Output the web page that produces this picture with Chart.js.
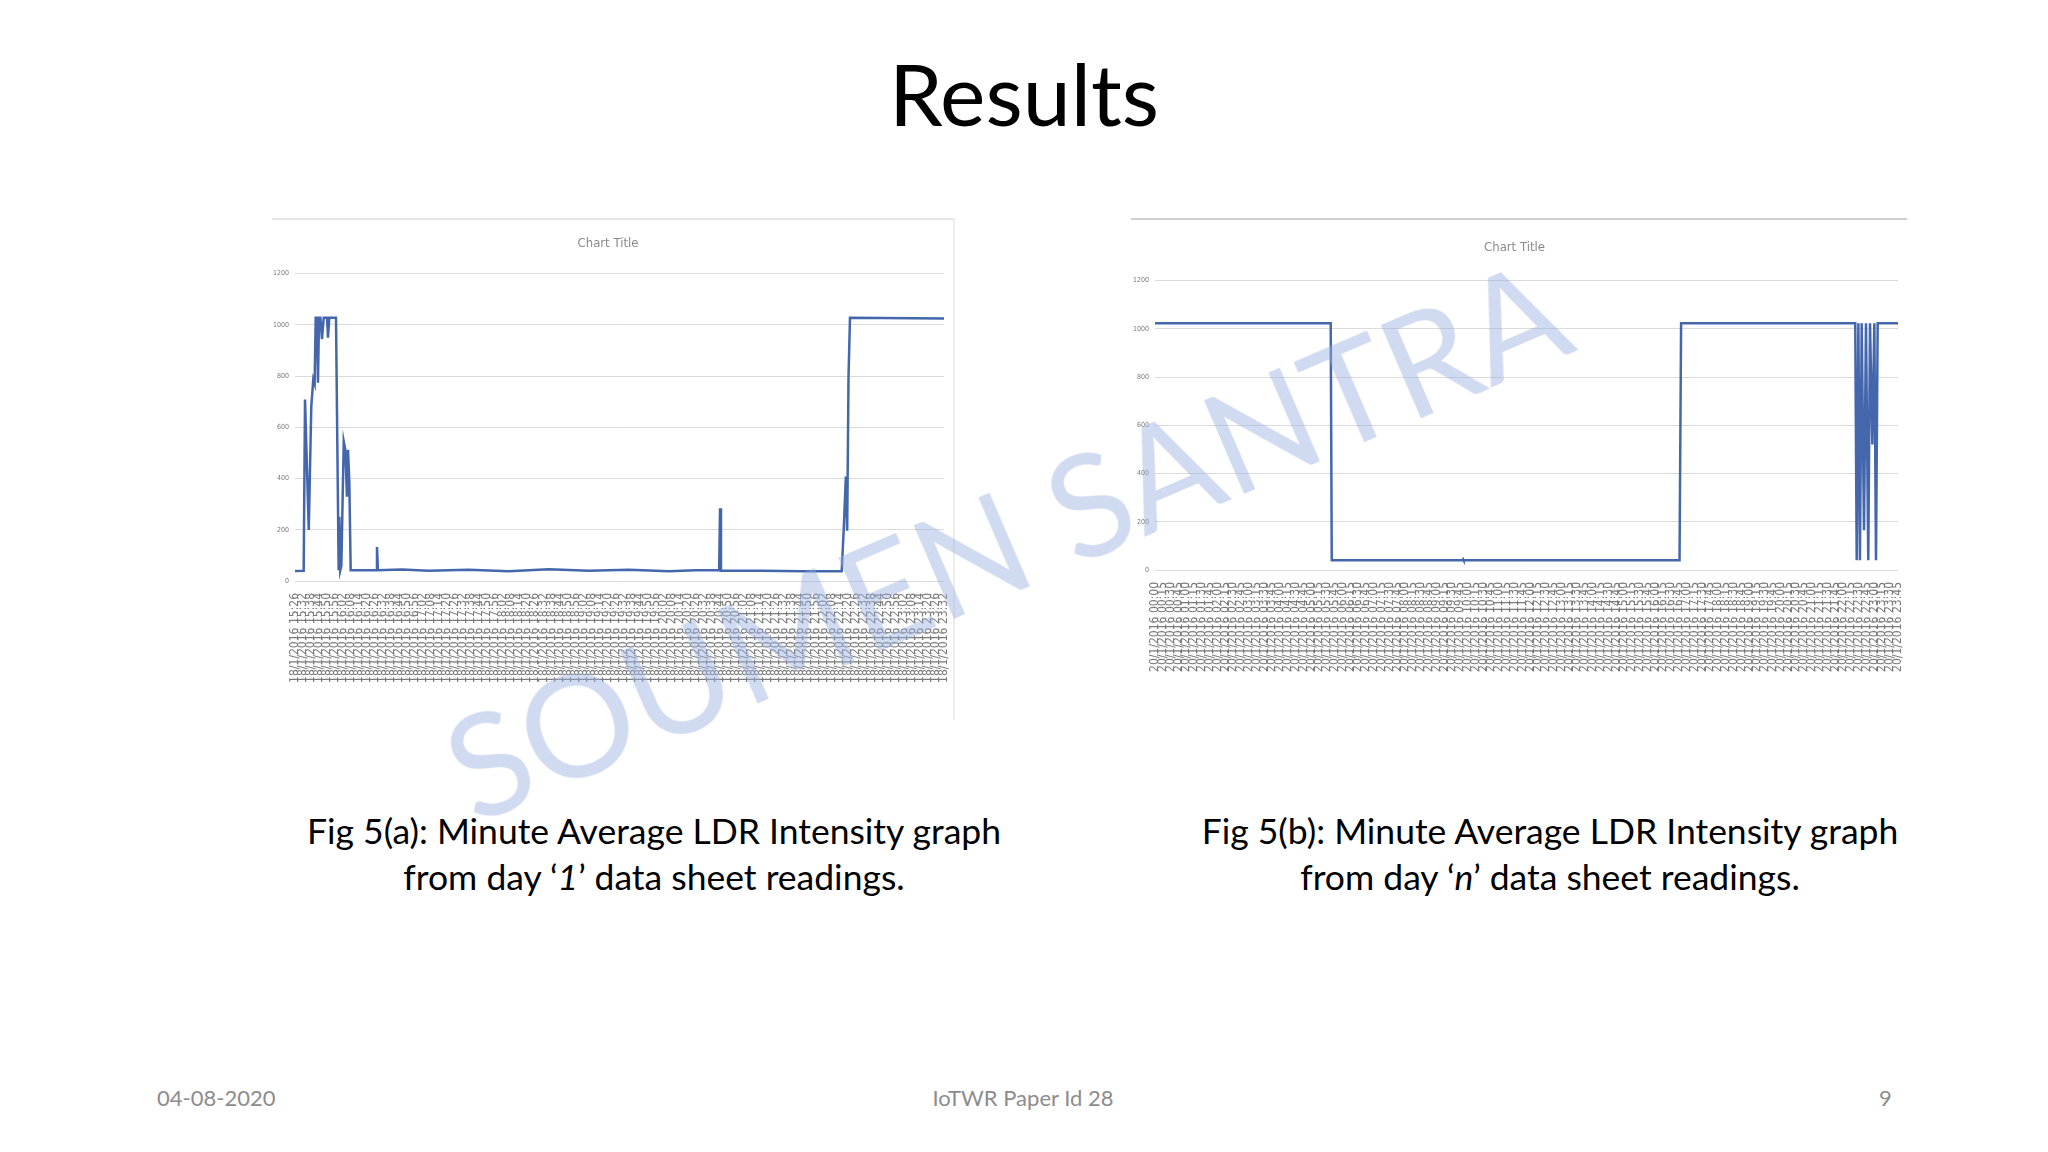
<!DOCTYPE html>
<html lang="en">

<head>
    <meta charset="UTF-8">
    <title>Results</title>
    <script src="https://cdn.jsdelivr.net/npm/chart.js"></script>

    <style>
        body {
            margin: 0;
            width: 2048px;
            height: 1152px;
            background: white;
            position: relative;
            overflow: hidden;
            font-family: Lato, "Open Sans", sans-serif;
        }

        .abs {
            position: absolute;
        }

        #title {
            left: 0;
            width: 2048px;
            top: 50px;
            text-align: center;
            font-size: 86px;
            line-height: 1;
            color: black;
        }

        .chartBox {
            background: white;
            top: 218px;
            height: 500px;
        }

        #boxA {
            left: 272px;
            width: 681px;
            border-top: 2px solid #e6e6e6;
            border-right: 2px solid #ececec;
        }

        #boxB {
            left: 1131px;
            width: 776px;
            border-top: 2px solid #cfcfcf;
        }

        .caption {
            top: 808px;
            width: 840px;
            text-align: center;
            font-size: 35.5px;
            line-height: 46px;
            color: black;
        }

        .footer {
            top: 1087px;
            font-size: 22px;
            line-height: 1;
            color: #8c8c8c;
        }

        #watermark {
            left: 1005px;
            top: 537px;
            transform: translate(-50%, -50%) rotate(-23.3deg);
            font-size: 142px;
            white-space: nowrap;
            color: rgba(150, 172, 222, 0.45);
            pointer-events: none;
            z-index: 5;
        }
    </style>
</head>

<body>
    <div id="title" class="abs">Results</div>

    <div id="boxA" class="abs chartBox"><canvas id="chartA"></canvas></div>
    <div id="boxB" class="abs chartBox"><canvas id="chartB"></canvas></div>

    <div class="abs caption" style="left:234px">Fig 5(a): Minute Average LDR Intensity graph<br>from day ‘<i>1</i>’ data sheet readings.</div>
    <div class="abs caption" style="left:1130px">Fig 5(b): Minute Average LDR Intensity graph<br>from day ‘<i>n</i>’ data sheet readings.</div>

    <div class="abs footer" style="left:157px">04-08-2020</div>
    <div class="abs footer" style="left:0;width:2046px;text-align:center">IoTWR Paper Id 28</div>
    <div class="abs footer" style="left:1879px">9</div>

    <div id="watermark" class="abs">SOUMEN SANTRA</div>

    <script>
        // day 1 : minutes after the first reading, and LDR value
        const dayOneMinutes = [0, 6.5, 7.5, 10.3, 12.2, 13.7, 14.7, 15.5, 16.5, 17.2,
            18, 19, 20.2, 21.5, 24, 24.7, 25.7, 30.7, 32.7, 33.2,
            33.9, 34.7, 36.5, 37.7, 38.9, 39.7, 40.7, 41.7, 60.9, 61.4,
            62.1, 80, 100, 130, 160, 190, 220, 250, 280, 300,
            317.6, 318.3, 319, 350, 380, 409.4, 411, 412.5, 413.5, 414.5,
            415.6, 486]
        const dayOneValues = [39, 40, 708, 199, 682, 787, 770, 1028, 1028, 774,
            1028, 1028, 944, 1028, 1028, 950, 1028, 1028, 42, 251,
            42, 60, 545, 512, 329, 512, 382, 42, 42, 133,
            42, 45, 40, 44, 38, 46, 40, 44, 38, 42,
            42, 284, 40, 40, 38, 38, 212, 408, 196, 800,
            1028, 1025]

        // day n
        const dayNMinutes = [0, 337, 339, 590, 591, 592, 1006, 1009, 1343, 1345.8,
            1349, 1352, 1355.4, 1359.8, 1363.6, 1368, 1371.3, 1375.8, 1379.6, 1382.8,
            1386, 1425]
        const dayNValues = [1023, 1023, 40, 40, 44, 40, 40, 1023, 1023, 40,
            1023, 40, 1023, 165, 1023, 40, 1023, 520, 1023, 40,
            1023, 1023]

        // x tick labels (time stamps of the sheet rows)
        const dayOneDate = '18/1/2016', dayOneStart = 15 * 60 + 26, dayOneStep = 6, dayOneCount = 82
        const dayNDate = '20/1/2016', dayNStart = 0, dayNStep = 15, dayNCount = 96

        const yTicks = [0, 200, 400, 600, 800, 1000, 1200]

        function stamps(date, start, step, count) {
            const out = []
            for (let i = 0; i < count; i++) {
                const t = start + i * step
                const h = Math.floor(t / 60), m = t % 60
                out.push(date + ' ' + String(h).padStart(2, '0') + ':' + String(m).padStart(2, '0'))
            }
            return out
        }
        const dayOneTicks = stamps(dayOneDate, dayOneStart, dayOneStep, dayOneCount)
        const dayNTicks = stamps(dayNDate, dayNStart, dayNStep, dayNCount)

        const narrow = "'DejaVu Sans Condensed', 'Liberation Sans Narrow', 'DejaVu Sans'"

        function makeChart(id, minutes, values, tickLabels, step, opts) {
            return new Chart(id, {
                type: 'line',
                data: {
                    datasets: [{
                        data: minutes.map((m, i) => ({ x: m, y: values[i] })),
                        borderColor: '#4366ad',
                        borderWidth: 2.5,
                        pointRadius: 0,
                        tension: 0,
                        fill: false
                    }]
                },
                options: {
                    animation: false,
                    responsive: true,
                    maintainAspectRatio: false,
                    layout: { padding: { right: 9 } },
                    plugins: {
                        legend: { display: false },
                        tooltip: { enabled: false },
                        title: {
                            display: true,
                            text: 'Chart Title',
                            color: '#8a8a8a',
                            font: { family: narrow, size: 13, weight: 'normal' },
                            padding: opts.titlePad
                        }
                    },
                    scales: {
                        x: {
                            type: 'linear',
                            min: 0,
                            max: (tickLabels.length - 1) * step,
                            grid: { display: false },
                            border: { display: false },
                            ticks: {
                                stepSize: step,
                                maxTicksLimit: 1000,
                                autoSkip: false,
                                minRotation: 90,
                                maxRotation: 90,
                                padding: 4,
                                color: '#7a7a7a',
                                font: { family: narrow, size: 12 },
                                callback: (v) => tickLabels[Math.round(v / step)]
                            },
                            afterFit: (s) => {
                                s.height = opts.xHeight
                                s.paddingLeft = 0
                                s.paddingRight = 0
                            }
                        },
                        y: {
                            min: 0,
                            max: 1200,
                            afterBuildTicks: (s) => { s.ticks = yTicks.map(v => ({ value: v })) },
                            grid: { color: '#dadada', lineWidth: 1, drawTicks: false },
                            border: { display: false },
                            ticks: {
                                padding: 6,
                                color: '#7a7a7a',
                                font: { family: narrow, size: 7 },
                                callback: (v) => String(v)
                            },
                            afterFit: (s) => { s.width = opts.yWidth }
                        }
                    }
                }
            })
        }

        makeChart('chartA', dayOneMinutes, dayOneValues, dayOneTicks, dayOneStep,
            { titlePad: { top: 16, bottom: 22 }, xHeight: 139, yWidth: 23 })
        makeChart('chartB', dayNMinutes, dayNValues, dayNTicks, dayNStep,
            { titlePad: { top: 20, bottom: 25 }, xHeight: 150, yWidth: 24 })
    </script>
</body>

</html>
